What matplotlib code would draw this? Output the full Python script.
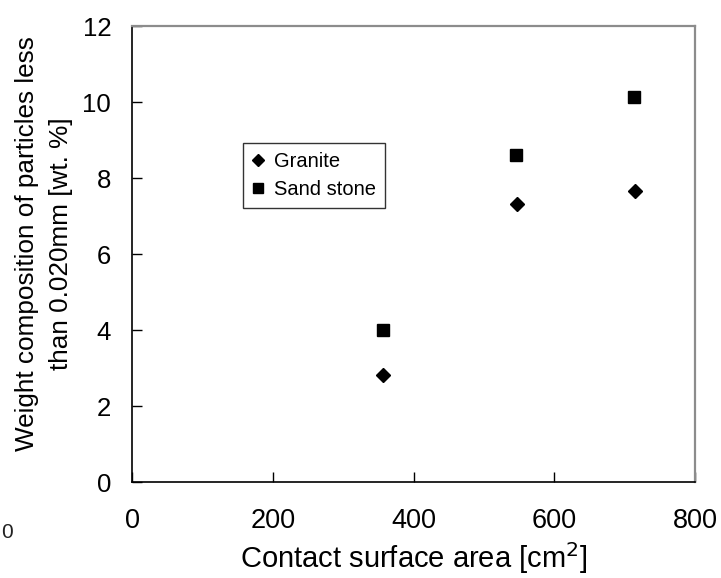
import matplotlib
matplotlib.use("Agg")
import matplotlib.pyplot as plt

plt.rcParams['font.family'] = ['Liberation Sans', 'DejaVu Sans']

# Data
area_granite = [357, 547, 715]
wt_granite = [2.82, 7.32, 7.66]
area_sand = [357, 546, 714]
wt_sand = [4.01, 8.61, 10.13]
series_names = ["Granite", "Sand stone"]
xticks = [0, 200, 400, 600, 800]
yticks = [0, 2, 4, 6, 8, 10, 12]
xlabel = "Contact surface area [cm$^2$]"
ylabel = "Weight composition of particles less\nthan 0.020mm [wt. %]"

W, H = 721, 578
fig = plt.figure(figsize=(W / 100, H / 100), dpi=100)
L, R, T, B = 132, 695, 26, 482
ax = fig.add_axes([L / W, 1 - B / H, (R - L) / W, (B - T) / H])

ax.plot(area_granite, wt_granite, linestyle='none', marker='D', markersize=7.5,
        color='black', label=series_names[0], clip_on=False)
ax.plot(area_sand, wt_sand, linestyle='none', marker='s', markersize=8,
        color='black', label=series_names[1], clip_on=False)

ax.set_xlim(0, 800)
ax.set_ylim(0, 12)
ax.set_xticks(xticks)
ax.set_yticks(yticks)
ax.set_xticklabels([str(v) for v in xticks])
ax.set_yticklabels([str(v) for v in yticks])

ax.tick_params(axis='x', direction='in', length=7, width=1, pad=19,
               labelsize=19.5, colors='black')
ax.tick_params(axis='y', direction='in', length=7, width=1, pad=15,
               labelsize=18.5, colors='black')

for s in ['left', 'bottom']:
    ax.spines[s].set_color('black')
    ax.spines[s].set_linewidth(1.2)
for s in ['top', 'right']:
    ax.spines[s].set_color('#8c8c8c')
    ax.spines[s].set_linewidth(1.6)

ax.set_xlabel(xlabel, fontsize=21, labelpad=4)

fig.text(44 / W, 1 - 244 / H, ylabel, rotation=90, ha='center', va='center',
         multialignment='center', fontsize=18.8, linespacing=1.55)

# stray character at far left edge
fig.text(1 / W, 1 - 533 / H, "0", ha='left', va='center', fontsize=15,
         color='#222222')

leg = ax.legend(loc='upper left',
                bbox_to_anchor=((243 - L) / (R - L), (B - 143) / (B - T)),
                frameon=True, fancybox=False, edgecolor='black',
                fontsize=14.5, handlelength=0.6, handletextpad=0.5,
                borderpad=0.45, labelspacing=0.45, borderaxespad=0,
                markerscale=0.85)
leg.get_frame().set_linewidth(1.0)

fig.savefig("out.png", dpi=100)
